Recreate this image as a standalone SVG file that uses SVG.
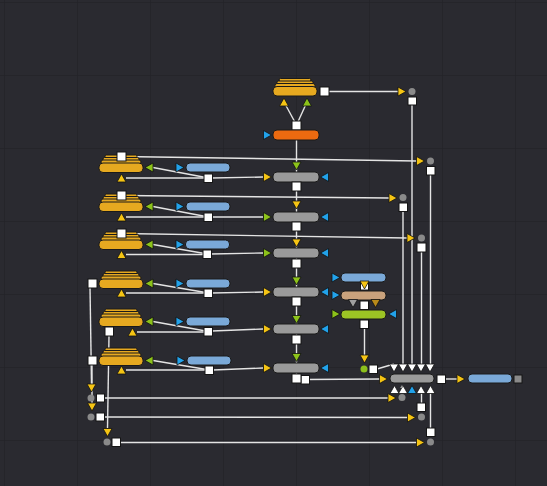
<svg xmlns="http://www.w3.org/2000/svg" xmlns:xlink="http://www.w3.org/1999/xlink" width="547" height="486" viewBox="0 0 547 486">
<style>
.bg{fill:#2a2a30}
.w{stroke:#e4e4e4;stroke-width:1.4;fill:none}
.sq{fill:#ffffff;stroke:#151515;stroke-width:1}
.st{fill:#e6a920;stroke:#1a1a1a;stroke-width:1}
.gr{fill:#9a9a9a;stroke:#1a1a1a;stroke-width:1}
.bl{fill:#7aa9d8;stroke:#1a1a1a;stroke-width:1}
.or{fill:#ec6a10;stroke:#1a1a1a;stroke-width:1}
.tn{fill:#c9a27c;stroke:#1a1a1a;stroke-width:1}
.gn{fill:#9cc424;stroke:#1a1a1a;stroke-width:1}
.ty{fill:#f5c414}
.tg{fill:#8cc21a}
.tb{fill:#22a2ea}
.tw{fill:#ffffff}
.tk{fill:#a0a0a0}
.td{fill:#b88a1a}
.dot{fill:#8a8a8a}
</style>
<defs>
<pattern id="grid" width="73" height="73" patternUnits="userSpaceOnUse" x="4" y="2">
<path d="M0 0H73M0 0V73" stroke="#232328" stroke-width="1.5" fill="none"/>
</pattern>
<path id="td" d="M-4.5 -4H4.5L0 4Z" stroke="#111" stroke-width="0.8"/>
<path id="tu" d="M-4.5 4H4.5L0 -4Z" stroke="#111" stroke-width="0.8"/>
<path id="tr" d="M-4 -4.5V4.5L4 0Z" stroke="#111" stroke-width="0.8"/>
<path id="tl" d="M4 -4.5V4.5L-4 0Z" stroke="#111" stroke-width="0.8"/>
<g id="stack">
<rect x="6" y="-8" width="32" height="3" rx="1.5" class="st"/>
<rect x="4" y="-5.5" width="36" height="3.5" rx="1.5" class="st"/>
<rect x="2" y="-3" width="40" height="4" rx="2" class="st"/>
<rect x="0" y="0" width="44" height="9.5" rx="4" class="st"/>
</g>
</defs>
<rect class="bg" width="547" height="486"/>
<rect fill="url(#grid)" width="547" height="486"/>

<g id="connectors" class="w">
<line x1="284" y1="102" x2="296.5" y2="125"/>
<line x1="307" y1="102" x2="296.5" y2="125"/>
<line x1="296.5" y1="125" x2="296.5" y2="378"/>
<line x1="305" y1="379.5" x2="380" y2="379"/>
<line x1="324.5" y1="91.5" x2="398" y2="91.5"/>
<line x1="412" y1="97" x2="412" y2="364"/>
<line x1="121.5" y1="156.5" x2="416.5" y2="161"/>
<line x1="430.5" y1="167" x2="430.5" y2="364"/>
<line x1="121.5" y1="195.5" x2="389" y2="198"/>
<line x1="403" y1="203" x2="403" y2="364"/>
<line x1="121.5" y1="233.5" x2="407" y2="238"/>
<line x1="421.5" y1="243" x2="421.5" y2="364"/>
<line x1="364.5" y1="324" x2="364.5" y2="355"/>
<line x1="377" y1="369" x2="394" y2="364"/>
<line x1="445" y1="379" x2="457" y2="379"/>
<!-- row links -->
<line x1="153" y1="167.5" x2="208.5" y2="178"/>
<line x1="126" y1="178" x2="204" y2="178"/>
<line x1="212" y1="178" x2="263" y2="177"/>
<line x1="153" y1="206.5" x2="208.5" y2="217"/>
<line x1="126" y1="217" x2="204" y2="217"/>
<line x1="212" y1="217" x2="263" y2="217"/>
<line x1="153" y1="244.5" x2="207.5" y2="254"/>
<line x1="126" y1="254.5" x2="203" y2="254.5"/>
<line x1="211" y1="254" x2="263" y2="253"/>
<line x1="153" y1="283.5" x2="208.5" y2="293"/>
<line x1="126" y1="293" x2="204" y2="293"/>
<line x1="212" y1="293" x2="263" y2="292"/>
<line x1="153" y1="321.5" x2="208.5" y2="331.5"/>
<line x1="137" y1="332" x2="204" y2="332"/>
<line x1="212" y1="331" x2="263" y2="329"/>
<line x1="153" y1="360.5" x2="209.5" y2="370"/>
<line x1="126" y1="370" x2="205" y2="370"/>
<line x1="213" y1="370" x2="263" y2="368"/>
<!-- bottom left -->
<line x1="90" y1="287" x2="91.5" y2="384"/>
<line x1="92" y1="364" x2="92" y2="403"/>
<line x1="109" y1="336" x2="107.5" y2="428"/>
<line x1="104" y1="398" x2="388" y2="398"/>
<line x1="104" y1="417" x2="407.5" y2="417.5"/>
<line x1="120" y1="442.5" x2="416.5" y2="442.5"/>
<line x1="421.5" y1="403" x2="421.5" y2="393"/>
<line x1="430.5" y1="428" x2="430.5" y2="393"/>
</g>

<g id="n-top">
<use href="#stack" x="273" y="86.5"/>
<rect x="320" y="87" width="9" height="9" class="sq"/>
<use href="#tu" x="284" y="102" class="ty"/>
<use href="#tu" x="307" y="102" class="tg"/>
<rect x="292" y="121" width="9" height="9" class="sq"/>
</g>
<g id="n-orange">
<rect x="273" y="130" width="46" height="10" rx="4" class="or"/>
<use href="#tr" x="267.5" y="135" class="tb"/>
</g>

<g id="n-g1">
<use href="#td" x="296.5" y="166" class="tg"/>
<rect x="273" y="172" width="46" height="10" rx="4" class="gr"/>
<use href="#tr" x="267.5" y="177" class="ty"/>
<use href="#tl" x="324.5" y="177" class="tb"/>
<rect x="292" y="182" width="9" height="9" class="sq"/>
</g>
<g id="n-g2">
<use href="#td" x="296.5" y="205" class="ty"/>
<rect x="273" y="212" width="46" height="10" rx="4" class="gr"/>
<use href="#tr" x="267.5" y="217" class="tg"/>
<use href="#tl" x="324.5" y="217" class="tb"/>
<rect x="292" y="222" width="9" height="9" class="sq"/>
</g>
<g id="n-g3">
<use href="#td" x="296.5" y="243" class="ty"/>
<rect x="273" y="248" width="46" height="10" rx="4" class="gr"/>
<use href="#tr" x="267.5" y="253" class="tg"/>
<use href="#tl" x="324.5" y="253" class="tb"/>
<rect x="292" y="259" width="9" height="9" class="sq"/>
</g>
<g id="n-g4">
<use href="#td" x="296.5" y="281" class="tg"/>
<rect x="273" y="287" width="46" height="10" rx="4" class="gr"/>
<use href="#tr" x="267.5" y="292" class="ty"/>
<use href="#tl" x="324.5" y="292" class="tb"/>
<rect x="292" y="297" width="9" height="9" class="sq"/>
</g>
<g id="n-g5">
<use href="#td" x="296.5" y="319.5" class="tg"/>
<rect x="273" y="324" width="46" height="10" rx="4" class="gr"/>
<use href="#tr" x="267.5" y="329" class="ty"/>
<use href="#tl" x="324.5" y="329" class="tb"/>
<rect x="292" y="335" width="9" height="9" class="sq"/>
</g>
<g id="n-g6">
<use href="#td" x="296.5" y="357.5" class="tg"/>
<rect x="273" y="363" width="46" height="10" rx="4" class="gr"/>
<use href="#tr" x="267.5" y="368" class="ty"/>
<use href="#tl" x="324.5" y="368" class="tb"/>
<rect x="301" y="375.5" width="8.5" height="8.5" class="sq"/>
<rect x="292" y="374" width="9" height="9" class="sq"/>
</g>

<g id="row1">
<use href="#stack" x="99" y="163"/>
<use href="#tl" x="149" y="167.5" class="tg"/>
<use href="#tu" x="121.5" y="178" class="ty"/>
<rect x="117" y="152" width="9" height="9" class="sq"/>
<use href="#tr" x="180" y="167.5" class="tb"/>
<rect x="186" y="163" width="44" height="9" rx="4" class="bl"/>
<rect x="204" y="174" width="8.5" height="8.5" class="sq"/>
</g>
<g id="row2">
<use href="#stack" x="99" y="202"/>
<use href="#tl" x="149" y="206.5" class="tg"/>
<use href="#tu" x="121.5" y="217" class="ty"/>
<rect x="117" y="191" width="9" height="9" class="sq"/>
<use href="#tr" x="180" y="206.5" class="tb"/>
<rect x="186" y="202" width="44" height="9" rx="4" class="bl"/>
<rect x="204" y="213" width="8.5" height="8.5" class="sq"/>
</g>
<g id="row3">
<use href="#stack" x="99" y="240"/>
<use href="#tl" x="149" y="244.5" class="tg"/>
<use href="#tu" x="121.5" y="254.5" class="ty"/>
<rect x="117" y="229" width="9" height="9" class="sq"/>
<use href="#tr" x="180" y="244.5" class="tb"/>
<rect x="185.5" y="240" width="44" height="9" rx="4" class="bl"/>
<rect x="203" y="250" width="8.5" height="8.5" class="sq"/>
</g>
<g id="row4">
<use href="#stack" x="99" y="279"/>
<use href="#tl" x="149" y="283.5" class="tg"/>
<use href="#tu" x="121.5" y="293" class="ty"/>
<rect x="88" y="279" width="9" height="9" class="sq"/>
<use href="#tr" x="180" y="283.5" class="tb"/>
<rect x="186" y="279" width="44" height="9" rx="4" class="bl"/>
<rect x="204" y="289" width="8.5" height="8.5" class="sq"/>
</g>
<g id="row5">
<use href="#stack" x="99" y="317"/>
<use href="#tl" x="149" y="321.5" class="tg"/>
<use href="#tu" x="132.5" y="332" class="ty"/>
<rect x="105" y="327" width="8.5" height="9" class="sq"/>
<use href="#tr" x="180" y="321.5" class="tb"/>
<rect x="186" y="317" width="44" height="9" rx="4" class="bl"/>
<rect x="204" y="327.5" width="8.5" height="8.5" class="sq"/>
</g>
<g id="row6">
<use href="#stack" x="99" y="356"/>
<use href="#tl" x="149" y="360.5" class="tg"/>
<use href="#tu" x="121.5" y="370" class="ty"/>
<rect x="88" y="356" width="9" height="9" class="sq"/>
<use href="#tr" x="181" y="360.5" class="tb"/>
<rect x="187" y="356" width="44" height="9" rx="4" class="bl"/>
<rect x="205" y="366" width="8.5" height="8.5" class="sq"/>
</g>

<g id="n-side">
<use href="#tr" x="336" y="277.5" class="tb"/>
<rect x="341" y="273" width="45" height="9" rx="4" class="bl"/>
<rect x="360.5" y="283" width="8" height="7" class="sq"/>
<use href="#tr" x="336" y="295" class="tb"/>
<rect x="341" y="291" width="45" height="9" rx="4" class="tn"/>
<use href="#td" x="364.5" y="285" class="ty"/>
<use href="#td" x="353" y="303.5" class="tk"/>
<use href="#td" x="375.5" y="303.5" class="td"/>
<rect x="360" y="301" width="8.5" height="8.5" class="sq"/>
<use href="#tr" x="336" y="314" class="tg"/>
<rect x="341" y="310" width="45" height="9" rx="4" class="gn"/>
<use href="#tl" x="392.5" y="314" class="tb"/>
<rect x="360" y="320" width="8.5" height="8.5" class="sq"/>
</g>

<g id="n-merge">
<use href="#td" x="364.5" y="359" class="ty"/>
<circle cx="364" cy="369" r="3.5" fill="#8cbf1c"/>
<rect x="369" y="365" width="8.5" height="8.5" class="sq"/>
<use href="#td" x="394" y="368" class="tw"/>
<use href="#td" x="403" y="368" class="tw"/>
<use href="#td" x="412" y="368" class="tw"/>
<use href="#td" x="421" y="368" class="tw"/>
<use href="#td" x="430" y="368" class="tw"/>
<use href="#tr" x="383.5" y="379" class="ty"/>
<rect x="390" y="374" width="44" height="9" rx="4" class="gr"/>
<use href="#tu" x="394.5" y="389.5" class="tw"/>
<use href="#tu" x="403" y="389.5" class="tw"/>
<path d="M400 388l2 -3l1.5 3z" fill="#9a9a9a"/>
<use href="#tu" x="412" y="389.5" class="tb"/>
<use href="#tu" x="421" y="389.5" class="tw"/>
<use href="#tu" x="430.5" y="389.5" class="tw"/>
<rect x="437" y="375" width="8.5" height="8.5" class="sq"/>
</g>
<g id="n-out">
<use href="#tr" x="461" y="379" class="ty"/>
<rect x="468" y="374" width="44" height="9" rx="4" class="bl"/>
<rect x="514" y="375" width="8" height="8" fill="#8a8a8a" stroke="#151515" stroke-width="1"/>
</g>

<g id="dots-right">
<use href="#tr" x="402" y="91.5" class="ty"/>
<circle cx="412" cy="91.5" r="3.5" class="dot"/>
<rect x="408" y="97" width="8.5" height="8" class="sq"/>
<use href="#tr" x="420.5" y="161" class="ty"/>
<circle cx="430.5" cy="161" r="3.5" class="dot"/>
<rect x="426.5" y="166.5" width="8.5" height="8.5" class="sq"/>
<use href="#tr" x="393" y="198" class="ty"/>
<circle cx="403" cy="197.5" r="3.5" class="dot"/>
<rect x="399" y="203" width="8.5" height="8.5" class="sq"/>
<use href="#tr" x="411" y="238" class="ty"/>
<circle cx="421.5" cy="238" r="3.5" class="dot"/>
<rect x="417" y="243" width="9" height="9" class="sq"/>
</g>

<g id="dots-bottom">
<use href="#td" x="91.5" y="388" class="ty"/>
<circle cx="91" cy="398" r="3.5" class="dot"/>
<rect x="96.5" y="394" width="8" height="8" class="sq"/>
<use href="#td" x="92" y="407" class="ty"/>
<circle cx="91" cy="417" r="3.5" class="dot"/>
<rect x="96" y="413" width="8.5" height="8" class="sq"/>
<use href="#td" x="107.5" y="432.5" class="ty"/>
<circle cx="107" cy="442" r="3.5" class="dot"/>
<rect x="112" y="438" width="8.5" height="8.5" class="sq"/>
<use href="#tr" x="392" y="398" class="ty"/>
<circle cx="402" cy="397.5" r="3.5" class="dot"/>
<use href="#tr" x="411.5" y="417.5" class="ty"/>
<circle cx="421.5" cy="417" r="3.5" class="dot"/>
<rect x="417" y="403" width="8.5" height="8.5" class="sq"/>
<use href="#tr" x="420.5" y="442.5" class="ty"/>
<circle cx="430.5" cy="442" r="3.5" class="dot"/>
<rect x="426.5" y="428" width="8.5" height="8.5" class="sq"/>
</g>
</svg>
